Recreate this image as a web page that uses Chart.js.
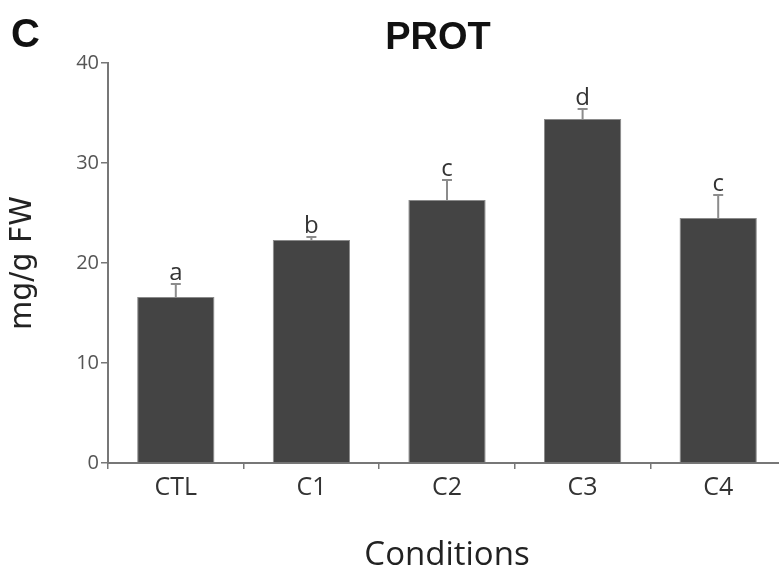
<!DOCTYPE html>
<html>
<head>
<meta charset="utf-8">
<script src="https://cdn.jsdelivr.net/npm/chart.js@4/dist/chart.umd.min.js"></script>
<style>
  html, body { margin: 0; padding: 0; background: #fff; overflow: hidden; }
  #wrap { width: 787px; height: 579px; }
</style>
</head>
<body>
<div id="wrap"><canvas id="c" width="787" height="579"></canvas></div>
<script>
const categories = ['CTL', 'C1', 'C2', 'C3', 'C4'];
const values = [16.6, 22.3, 26.3, 34.4, 24.5];
const errUpper = [1.3, 0.3, 2.0, 1.0, 2.3];
const letters = ['a', 'b', 'c', 'd', 'c'];
const yTicks = [0, 10, 20, 30, 40];

const decor = {
  id: 'decor',
  afterDatasetsDraw(chart) {
    const { ctx } = chart;
    const y = chart.scales.y;
    const meta = chart.getDatasetMeta(0);
    ctx.save();
    meta.data.forEach((bar, i) => {
      const cx = bar.x;
      const yTop = y.getPixelForValue(values[i]);
      const yErr = y.getPixelForValue(values[i] + errUpper[i]);
      ctx.strokeStyle = '#8c8c8c';
      ctx.lineWidth = 2;
      ctx.beginPath();
      ctx.moveTo(cx, yTop);
      ctx.lineTo(cx, yErr);
      ctx.moveTo(cx - 5, yErr);
      ctx.lineTo(cx + 5, yErr);
      ctx.stroke();
      ctx.fillStyle = '#333';
      ctx.font = '24px "Open Sans"';
      ctx.textAlign = 'center';
      ctx.textBaseline = 'alphabetic';
      ctx.fillText(letters[i], cx, yErr - 4);
    });
    ctx.restore();
  },
  afterDraw(chart) {
    const { ctx } = chart;
    ctx.save();
    ctx.fillStyle = '#111';
    ctx.textBaseline = 'alphabetic';
    ctx.font = 'bold 40px "Liberation Sans"';
    ctx.textAlign = 'left';
    ctx.fillText('C', 11, 47);
    ctx.font = 'bold 38px "Liberation Sans"';
    ctx.textAlign = 'center';
    ctx.fillText('PROT', 438, 49);
    ctx.restore();
  }
};

new Chart(document.getElementById('c'), {
  type: 'bar',
  data: {
    labels: categories,
    datasets: [{
      data: values,
      backgroundColor: '#444444',
      borderColor: '#8a8a8a',
      borderWidth: 1,
      barPercentage: 0.57,
      categoryPercentage: 1.0
    }]
  },
  options: {
    responsive: false,
    animation: false,
    devicePixelRatio: 1,
    layout: { padding: { top: 63, right: 1, bottom: 0, left: 0 } },
    plugins: { legend: { display: false }, tooltip: { enabled: false }, title: { display: false } },
    scales: {
      x: {
        offset: true,
        grid: { offset: true, drawOnChartArea: false, drawTicks: true, tickLength: 6, color: '#777', lineWidth: 1.5 },
        border: { display: true, color: '#777', width: 2 },
        ticks: { color: '#333', font: { family: '"Open Sans"', size: 25 }, padding: 4 },
        title: { display: true, text: 'Conditions', color: '#222', font: { family: '"Open Sans"', size: 33 }, padding: { top: 0, bottom: 4 } },
        afterFit(scale) { scale.height = 116; }
      },
      y: {
        min: 0, max: 40,
        afterBuildTicks(scale) { scale.ticks = yTicks.map(v => ({ value: v })); },
        grid: { drawOnChartArea: false, drawTicks: true, tickLength: 7, color: '#777', lineWidth: 1.5 },
        border: { display: true, color: '#777', width: 2 },
        ticks: { color: '#555', font: { family: '"Open Sans"', size: 20 }, padding: 2 },
        title: { display: true, text: 'mg/g FW', color: '#222', font: { family: '"DejaVu Sans"', size: 30 }, padding: { top: 5, bottom: 0 } },
        afterFit(scale) { scale.width = 108; }
      }
    }
  },
  plugins: [decor]
});
</script>
</body>
</html>
